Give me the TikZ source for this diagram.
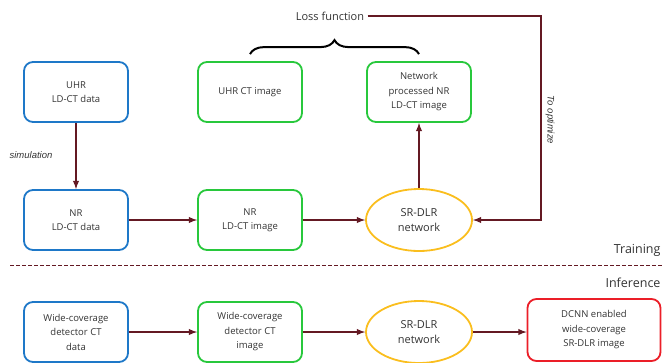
\documentclass[tikz,border=0pt]{standalone}
\usepackage{fontspec}
\setmainfont{Open Sans}
\newfontfamily\arialfont{Liberation Sans}
\usetikzlibrary{shapes.geometric,decorations.pathreplacing}

\definecolor{boxblue}{RGB}{30,120,200}
\definecolor{boxgreen}{RGB}{40,200,60}
\definecolor{netyellow}{RGB}{250,190,30}
\definecolor{boxred}{RGB}{235,30,40}
\definecolor{flowred}{RGB}{100,25,35}

\begin{document}
\begin{tikzpicture}[x=1pt, y=-1pt]
	\tikzstyle{every node} = [font=\fontsize{9.5}{14.5}\selectfont, align=center, text=black!80]
	\tikzstyle{stage} = [rectangle, rounded corners=9pt, line width=1.8pt, minimum width=104pt, minimum height=60pt]
	\tikzstyle{net} = [ellipse, draw=netyellow, line width=1.8pt, minimum width=106pt, minimum height=62pt, font=\fontsize{11}{15}\selectfont]
	\tikzstyle{flow} = [->, >=latex, draw=flowred, line width=1.8pt]
	\tikzstyle{remark} = [font=\arialfont\itshape\fontsize{9.5}{11}\selectfont]
	\useasboundingbox (0,0) rectangle (664,362);
	% training
	\node[stage, draw=boxblue] (UhrData) at (76, 92) {UHR\\LD-CT data};
	\node[stage, draw=boxgreen] (UhrImage) at (250, 92) {UHR CT image};
	\node[stage, draw=boxgreen] (ProcImage) at (419, 92) {Network\\processed NR\\LD-CT image};
	\node[stage, draw=boxblue] (NrData) at (76, 220) {NR\\LD-CT data};
	\node[stage, draw=boxgreen] (NrImage) at (250, 220) {NR\\LD-CT image};
	\node[net] (TrainNet) at (419, 220) {SR-DLR\\network};
	\node[font=\fontsize{11}{13}\selectfont] (Loss) at (330, 16) {Loss function};
	\coordinate (Turn) at (541, 16);
	\node[remark, rotate=-90] (Optimize) at (550, 120) {To optimize};
	\node[remark] (Simulation) at (31, 155) {simulation};
	\draw[flow] (UhrData) -- (NrData);
	\draw[flow] (NrData) -- (NrImage);
	\draw[flow] (NrImage) -- (TrainNet);
	\draw[flow] (TrainNet) -- (ProcImage);
	\draw[flow] (Loss.east) -- (Turn) |- (TrainNet.east);
	\draw[line width=2pt, decorate, decoration={brace, amplitude=14pt}] ([yshift=7pt]UhrImage.north) -- ([yshift=7pt]ProcImage.north);
	% split
	\node[anchor=east, font=\fontsize{12.5}{14}\selectfont] (Training) at (664, 250) {Training};
	\coordinate (SplitL) at (10, 265);
	\coordinate (SplitR) at (664, 265);
	\draw[flowred, line width=1pt, dash pattern=on 4pt off 2pt] (SplitL) -- (SplitR);
	\node[anchor=east, font=\fontsize{12.5}{14}\selectfont] (Inference) at (664, 283) {Inference};
	% inference
	\node[stage, draw=boxblue] (WideData) at (76, 332) {Wide-coverage\\detector CT\\data};
	\node[stage, draw=boxgreen] (WideImage) at (250, 332) {Wide-coverage\\detector CT\\image};
	\node[net] (InferNet) at (419, 332) {SR-DLR\\network};
	\node[stage, draw=boxred, minimum width=133pt, minimum height=62pt] (Enabled) at (594, 330) {DCNN enabled\\wide-coverage\\SR-DLR image};
	\draw[flow] (WideData) -- (WideImage);
	\draw[flow] (WideImage) -- (InferNet);
	\draw[flow] (InferNet) -- (Enabled.west |- InferNet);
\end{tikzpicture}
\end{document}
